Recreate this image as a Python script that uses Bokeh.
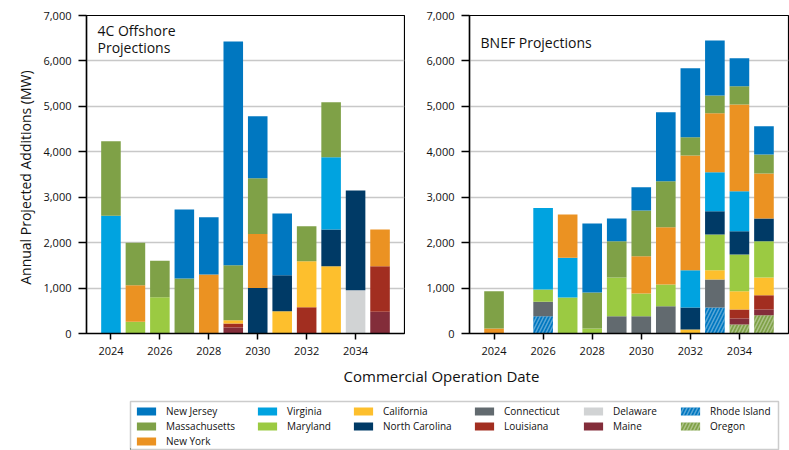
import math
import numpy as np
from bokeh.plotting import figure
from bokeh.layouts import column, row
from bokeh.models import (Legend, LegendItem, NumeralTickFormatter, FixedTicker,
                          Range1d, Label)
from bokeh.embed import file_html
from bokeh.resources import INLINE

FONT = "Open Sans"
INK = "#111111"

# Commercial operation years
years = [2024, 2025, 2026, 2027, 2028, 2029, 2030, 2031, 2032, 2033, 2034, 2035]

# Stacking order, bottom to top
states = ["Oregon", "Rhode Island", "Maine", "Connecticut", "Louisiana",
          "California", "Maryland", "Delaware", "North Carolina", "Virginia",
          "New York", "Massachusetts", "New Jersey"]

# 4C Offshore projected additions (MW) per state and year
fourc_mw = {
    "Oregon":         [0, 0, 0, 0, 0, 0, 0, 0, 0, 0, 0, 0],
    "Rhode Island":   [0, 0, 0, 0, 0, 0, 0, 0, 0, 0, 0, 0],
    "Maine":          [0, 0, 0, 0, 0, 130, 0, 0, 0, 0, 0, 480],
    "Connecticut":    [0, 0, 0, 0, 0, 0, 0, 0, 0, 0, 0, 0],
    "Louisiana":      [0, 0, 0, 0, 0, 90, 0, 0, 580, 0, 0, 1000],
    "California":     [0, 0, 0, 0, 0, 70, 0, 490, 1010, 1480, 0, 0],
    "Maryland":       [0, 260, 800, 0, 0, 0, 0, 0, 0, 0, 0, 0],
    "Delaware":       [0, 0, 0, 0, 0, 0, 0, 0, 0, 0, 950, 0],
    "North Carolina": [0, 0, 0, 0, 0, 0, 1000, 790, 0, 810, 2200, 0],
    "Virginia":       [2590, 0, 0, 0, 0, 0, 0, 0, 0, 1590, 0, 0],
    "New York":       [0, 800, 0, 0, 1300, 0, 1190, 0, 0, 0, 0, 810],
    "Massachusetts":  [1640, 940, 800, 1210, 0, 1210, 1230, 0, 770, 1210, 0, 0],
    "New Jersey":     [0, 0, 0, 1520, 1260, 4930, 1360, 1360, 0, 0, 0, 0],
}

# BNEF projected additions (MW) per state and year
bnef_mw = {
    "Oregon":         [0, 0, 0, 0, 0, 0, 0, 0, 0, 0, 200, 400],
    "Rhode Island":   [0, 0, 380, 0, 0, 0, 0, 0, 0, 570, 0, 0],
    "Maine":          [0, 0, 0, 0, 0, 0, 0, 0, 0, 0, 130, 130],
    "Connecticut":    [0, 0, 320, 0, 0, 380, 380, 600, 0, 620, 0, 0],
    "Louisiana":      [0, 0, 0, 0, 0, 0, 0, 0, 0, 0, 200, 310],
    "California":     [0, 0, 0, 0, 0, 0, 0, 0, 90, 200, 400, 390],
    "Maryland":       [0, 0, 270, 790, 110, 850, 500, 480, 0, 790, 810, 800],
    "Delaware":       [0, 0, 0, 0, 0, 0, 0, 0, 0, 0, 0, 0],
    "North Carolina": [0, 0, 0, 0, 0, 0, 0, 0, 480, 510, 510, 500],
    "Virginia":       [0, 0, 1790, 880, 0, 0, 0, 0, 820, 860, 880, 0],
    "New York":       [110, 0, 0, 950, 0, 0, 820, 1260, 2530, 1300, 1910, 990],
    "Massachusetts":  [820, 0, 0, 0, 790, 800, 1010, 1010, 400, 390, 400, 420],
    "New Jersey":     [0, 0, 0, 0, 1520, 500, 510, 1520, 1520, 1210, 620, 620],
}

colors = {
    "New Jersey": "#0077c0",
    "Massachusetts": "#7fa147",
    "New York": "#eb9222",
    "Virginia": "#00a3e0",
    "Maryland": "#9bca42",
    "California": "#fdbf2d",
    "North Carolina": "#003a66",
    "Connecticut": "#626a6f",
    "Louisiana": "#a22e20",
    "Delaware": "#d1d3d4",
    "Maine": "#832d3a",
    "Rhode Island": "#0077c0",
    "Oregon": "#7fa147",
}
hatched = {"Rhode Island", "Oregon"}

# Legend columns, left to right (each listed top to bottom)
legend_columns = [
    ["New Jersey", "Massachusetts", "New York"],
    ["Virginia", "Maryland"],
    ["California", "North Carolina"],
    ["Connecticut", "Louisiana"],
    ["Delaware", "Maine"],
    ["Rhode Island", "Oregon"],
]
# left edge of each legend column inside the legend box, px
legend_column_x = [4, 125, 221, 342, 451, 548]

x_ticks = [2024, 2026, 2028, 2030, 2032, 2034]
y_ticks = [0, 1000, 2000, 3000, 4000, 5000, 6000, 7000]

W = 789
TOP_H = 363
TITLE_H = 37
LEGEND_H = 50
BOX_LEFT, BOX_RIGHT = 130, 11   # legend box inset from the page edges


def bar_style(state):
    style = dict(fill_color=colors[state], line_color=None)
    if state in hatched:
        style.update(hatch_pattern="/", hatch_color="white", hatch_alpha=0.35,
                     hatch_scale=7, hatch_weight=1.5)
    return style


def blank(width, height, left=0, right=0, top=0, bottom=0):
    f = figure(width=width, height=height,
               x_range=Range1d(0, width - left - right),
               y_range=Range1d(0, height - top - bottom), output_backend="svg",
               toolbar_location=None, min_border=0, min_border_left=left,
               min_border_right=right, min_border_top=top,
               min_border_bottom=bottom)
    f.axis.visible = False
    f.grid.visible = False
    f.outline_line_color = None
    f.background_fill_color = "white"
    f.border_fill_color = "white"
    return f


def panel(title, title_y, data, width, border_left):
    p = figure(width=width, height=TOP_H, x_range=Range1d(2023, 2036),
               y_range=Range1d(0, 7000), output_backend="svg",
               toolbar_location=None, min_border_left=border_left,
               min_border_right=1, min_border_top=15, min_border_bottom=30)
    p.background_fill_color = "white"
    p.border_fill_color = "white"
    p.outline_line_color = "black"
    p.outline_line_width = 1.2

    base = np.zeros(len(years))
    for s in states:
        v = np.array(data[s], dtype=float)
        top = base + v
        if v.any():
            p.vbar(x=years, bottom=base, top=top, width=0.8, **bar_style(s))
        base = top

    p.xgrid.visible = False
    p.ygrid.grid_line_color = "#c8c8c8"
    p.ygrid.grid_line_width = 1.5
    p.ygrid.ticker = FixedTicker(ticks=y_ticks)

    for ax in (p.xaxis[0], p.yaxis[0]):
        ax.axis_line_color = "black"
        ax.axis_line_width = 1.5
        ax.major_tick_line_color = "black"
        ax.major_tick_line_width = 1.5
        ax.major_tick_in = 0
        ax.minor_tick_line_color = None
        ax.major_label_text_font = FONT
        ax.major_label_text_font_size = "11px"
        ax.major_label_text_color = INK

    p.xaxis.ticker = FixedTicker(ticks=x_ticks)
    p.xaxis.major_tick_out = 6
    p.xaxis.major_label_standoff = 7

    p.yaxis.ticker = FixedTicker(ticks=y_ticks)
    p.yaxis.formatter = NumeralTickFormatter(format="0,0")
    p.yaxis.major_tick_out = 8
    p.yaxis.major_label_standoff = 7

    p.add_layout(Label(x=2023.45, y=title_y, text=title, text_font=FONT,
                       text_font_size="14px", text_color=INK,
                       text_baseline="top", text_line_height=0.92))
    return p


# Narrow strip holding the vertical axis title
ytitle = blank(40, TOP_H)
ytitle.add_layout(Label(x=25, y=TOP_H - 185, text="Annual Projected Additions (MW)",
                        angle=math.pi / 2, text_font=FONT, text_font_size="14px",
                        text_color=INK, text_align="center",
                        text_baseline="middle"))

left = panel("4C Offshore\nProjections", 6880, fourc_mw, 365, 46)
right = panel("BNEF Projections", 6620, bnef_mw, 384, 64)

# Shared x-axis title (same insets as the legend strip, so the frames line up)
xtitle = blank(W, TITLE_H, left=BOX_LEFT, right=BOX_RIGHT)
xtitle.add_layout(Label(x=441 - BOX_LEFT, y=TITLE_H - 12,
                        text="Commercial Operation Date",
                        text_font=FONT, text_font_size="15px", text_color=INK,
                        text_align="center", text_baseline="middle"))

# Legend box: the frame outline is the box border
legbox = blank(W, LEGEND_H, left=BOX_LEFT, right=BOX_RIGHT, top=1, bottom=1)
legbox.outline_line_color = "#cccccc"
legbox.outline_line_width = 1.5

ROW = 15
for cx, names in zip(legend_column_x, legend_columns):
    items = []
    for s in names:
        r = legbox.vbar(x=[-100], bottom=[0], top=[1], width=1, **bar_style(s))
        items.append(LegendItem(label=s, renderers=[r]))
    lg = Legend(items=items, orientation="vertical",
                location=(cx, 1 + ROW * (3 - len(names))),
                label_text_font=FONT, label_text_font_size="10px",
                label_text_color=INK, glyph_width=24, glyph_height=10,
                label_height=ROW, label_standoff=8, spacing=0, padding=0,
                margin=0, border_line_color=None, background_fill_alpha=0)
    legbox.add_layout(lg)

layout = column(row(ytitle, left, right), xtitle, legbox)
open("out.html", "w").write(file_html(layout, INLINE))
